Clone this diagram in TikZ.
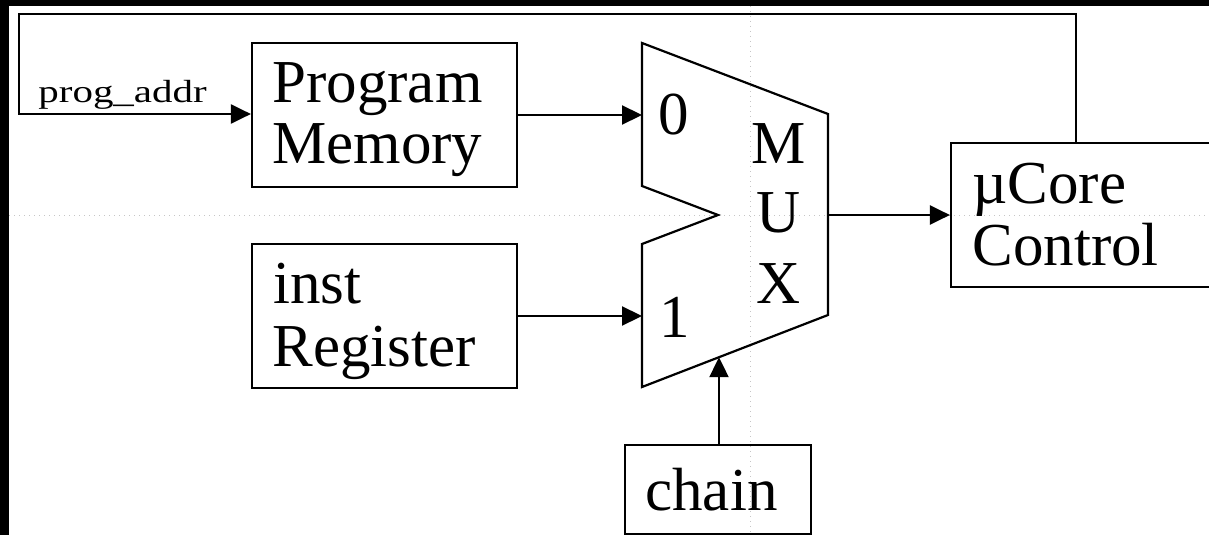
\documentclass[tikz,border=0pt]{standalone}
\usepackage{fontspec}
\setmainfont{Liberation Serif}
\usepackage{graphicx}
\usetikzlibrary{arrows.meta}
\newcommand\myBigFont{\fontsize{30.5}{30}\selectfont}
\newcommand\mySmallFont{\fontsize{16}{18}\selectfont}
\begin{document}
\begin{tikzpicture}[x=0.5pt,y=-0.5pt,
  box/.style args={#1/#2}{draw, line width=1.1pt, inner sep=0pt, minimum width=#1, minimum height=#2},
  txt/.style={font=\myBigFont, anchor=base west, inner sep=0pt},
  muxlbl/.style={font=\myBigFont, anchor=base, inner sep=0pt},
  wire/.style={line width=1.1pt, line join=miter},
  arr/.style={line width=1.1pt, -{Triangle[length=10pt,width=9.5pt]}},
  guide/.style={gray!45, line width=0.5pt, dotted}]
\useasboundingbox (0,0) rectangle (1209,535);
\clip (0,0) rectangle (1209,535);
\fill[white] (0,0) rectangle (1209,535);
\fill[black] (0,0) rectangle (1209,6);
\fill[black] (0,0) rectangle (9,535);
% guide lines
\draw[guide] (750,6) -- (750,535);
\draw[guide] (9,215) -- (1209,215);
% boxes
\node[box={132.5pt/72pt}] (pm) at (384.5,115) {};
\node[box={132.5pt/72pt}] (ir) at (384.5,316) {};
\node[box={144.5pt/72pt}] (mu) at (1095.5,215) {};
\node[box={93pt/44.5pt}] (ch) at (718,489.5) {};
% box texts
\node[txt] (pmA) at (272,103) {Program};
\node[txt] (pmB) at (272,163) {Memory};
\node[txt] (irA) at (273,303) {inst};
\node[txt] (irB) at (272,366) {Register};
\node[txt] (muA) at (972,203) {µCore};
\node[txt] (muB) at (972,265) {Control};
\node[txt] (chA) at (645,510) {chain};
\node[anchor=base west, inner sep=0pt, font=\mySmallFont] (pa) at (38,103) {\scalebox{1.28}[1]{prog\_addr}};
% MUX
\draw[wire] (642,43) -- (828,114) -- (828,315) -- (642,387) -- (642,244) -- (718,215) -- (642,186) -- cycle;
\coordinate (in0) at (642,115);
\coordinate (in1) at (642,316);
\coordinate (mout) at (828,215);
\coordinate (sel) at (719,357.2);
\node[muxlbl] (l0) at (674,134) {0};
\node[muxlbl] (l1) at (675,337) {1};
\node[muxlbl] (lM) at (779,163) {M};
\node[muxlbl] (lU) at (779,232) {U};
\node[muxlbl] (lX) at (779,303) {X};
% connectors
\draw[arr] (pm.east) -- (in0);
\draw[arr] (ir.east) -- (in1);
\draw[arr] (mout) -- (mu.west);
\draw[arr] (ch.north -| sel) -- (sel);
\coordinate (fb1) at (1076,14);
\coordinate (fb2) at (19,14);
\coordinate (fb3) at (19,114);
\draw[arr] (mu.north -| fb1) -- (fb1) -- (fb2) -- (fb3) -- (fb3 -| pm.west);
\end{tikzpicture}
\end{document}
